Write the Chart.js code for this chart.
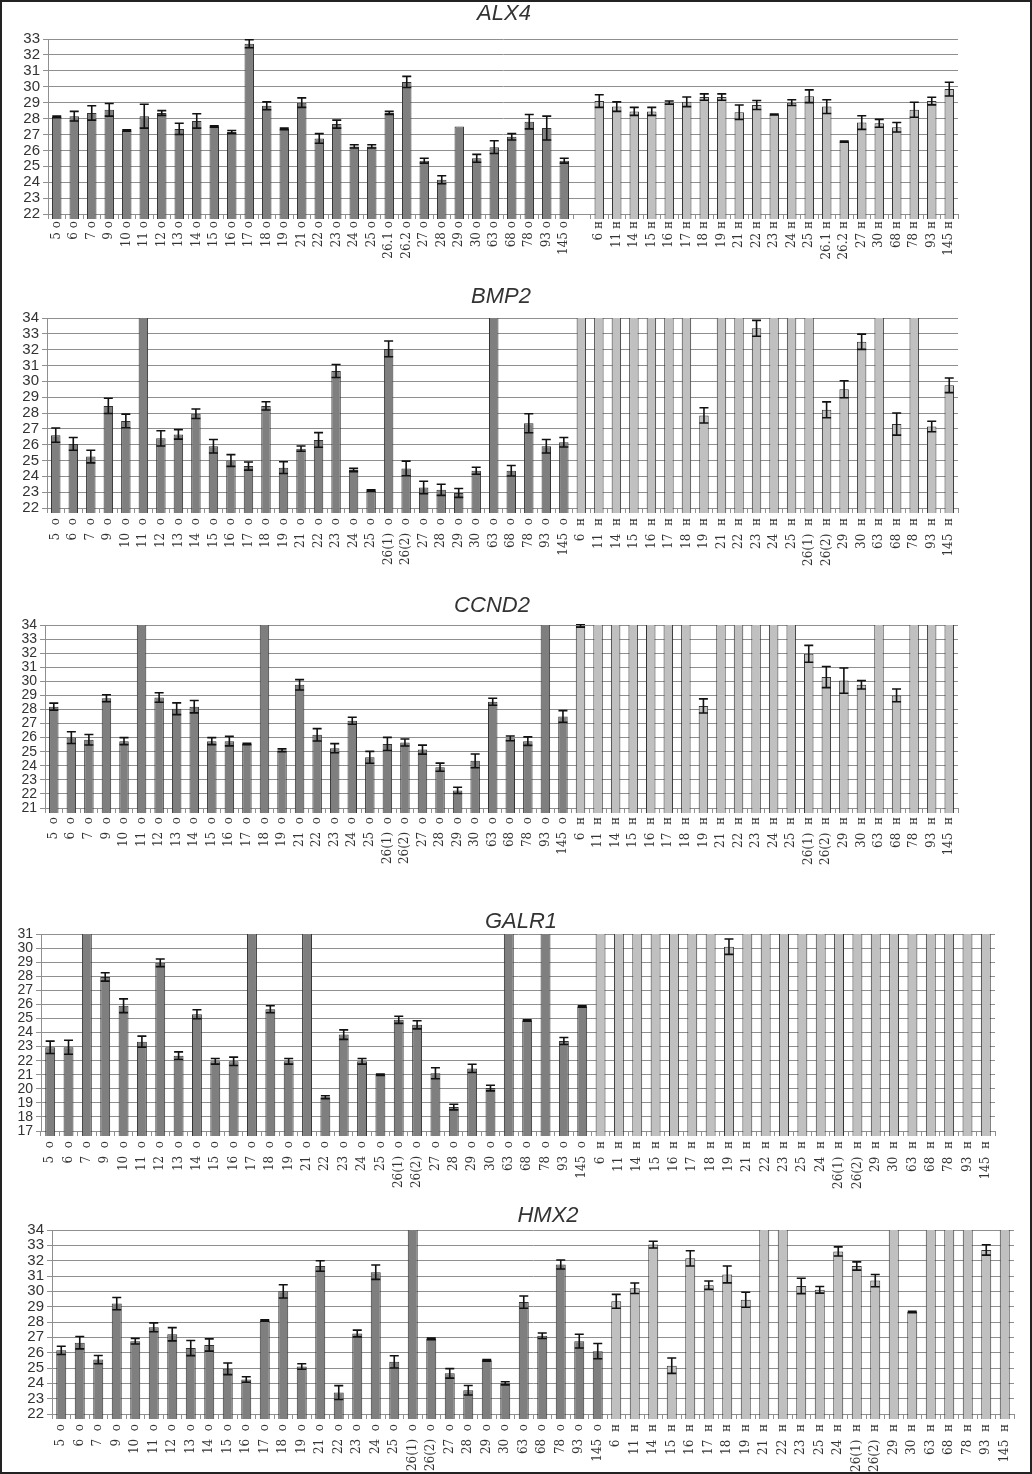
<!DOCTYPE html>
<html>
<head>
<meta charset="utf-8">
<script src="https://cdn.jsdelivr.net/npm/chart.js@4.4.1/dist/chart.umd.min.js"></script>
<style>
  html, body { margin: 0; padding: 0; background: #fff; }
  #figure { position: relative; width: 1032px; height: 1474px; overflow: hidden; background: #fff; }
  #frame { position: absolute; left: 0; top: 0; right: 0; bottom: 0; border: 2px solid #222; pointer-events: none; }
  canvas { position: absolute; left: 0; }
</style>
</head>
<body>
<div id="figure">
  <canvas id="alx4" width="1032" height="275" style="top:0px"></canvas>
  <canvas id="bmp2" width="1032" height="300" style="top:280px"></canvas>
  <canvas id="ccnd2" width="1032" height="290" style="top:585px"></canvas>
  <canvas id="galr1" width="1032" height="300" style="top:895px"></canvas>
  <canvas id="hmx2" width="1032" height="277" style="top:1195px"></canvas>
  <div id="frame"></div>
</div>
<script>
// bars that run past the top of the axis (no signal) get this value and are clipped
var OFF = 99;

// sample numbers: tumour ("о") and normal ("н") tissue
var tumorSamplesAlx4 = ["5", "6", "7", "9", "10", "11", "12", "13", "14", "15", "16", "17", "18", "19", "21", "22", "23", "24", "25", "26.1", "26.2", "27", "28", "29", "30", "63", "68", "78", "93", "145"];
var normalSamplesAlx4 = ["6", "11", "14", "15", "16", "17", "18", "19", "21", "22", "23", "24", "25", "26.1", "26.2", "27", "30", "68", "78", "93", "145"];
var tumorSamples = ["5", "6", "7", "9", "10", "11", "12", "13", "14", "15", "16", "17", "18", "19", "21", "22", "23", "24", "25", "26(1)", "26(2)", "27", "28", "29", "30", "63", "68", "78", "93", "145"];
var normalSamplesBC = ["6", "11", "14", "15", "16", "17", "18", "19", "21", "22", "23", "24", "25", "26(1)", "26(2)", "29", "30", "63", "68", "78", "93", "145"];
var normalSamplesGH = ["6", "11", "14", "15", "16", "17", "18", "19", "21", "22", "23", "25", "24", "26(1)", "26(2)", "29", "30", "63", "68", "78", "93", "145"];

// ALX4
var alx4Tumor = [28.1, 28.15, 28.35, 28.55, 27.25, 28.15, 28.35, 27.35, 27.85, 27.5, 27.15, 32.7, 28.8, 27.35, 29.0, 26.75, 27.65, 26.25, 26.25, 28.35, 30.3, 25.35, 24.15, 27.5, 25.5, 26.2, 26.85, 27.8, 27.4, 25.35];
var alx4TumorErr = [0.05, 0.3, 0.45, 0.4, 0.05, 0.75, 0.15, 0.35, 0.45, 0.05, 0.1, 0.25, 0.25, 0.05, 0.3, 0.3, 0.25, 0.1, 0.1, 0.1, 0.35, 0.15, 0.25, 0, 0.25, 0.4, 0.2, 0.45, 0.75, 0.15];
var alx4Normal = [29.1, 28.75, 28.45, 28.45, 29.0, 29.05, 29.35, 29.35, 28.4, 28.85, 28.25, 29.0, 29.4, 28.75, 26.55, 27.75, 27.7, 27.45, 28.55, 29.1, 29.85];
var alx4NormalErr = [0.4, 0.3, 0.25, 0.25, 0.1, 0.3, 0.2, 0.2, 0.45, 0.28, 0.03, 0.18, 0.4, 0.43, 0.03, 0.43, 0.25, 0.3, 0.47, 0.24, 0.43];

// BMP2
var bmp2Tumor = [26.6, 26.05, 25.25, 28.45, 27.5, OFF, 26.4, 26.65, 27.95, 25.9, 25.0, 24.65, 28.45, 24.55, 25.75, 26.3, 30.65, 24.4, 23.1, 32.05, 24.5, 23.3, 23.15, 22.95, 24.35, OFF, 24.35, 27.35, 25.9, 26.15];
var bmp2TumorErr = [0.45, 0.4, 0.4, 0.48, 0.43, 0, 0.48, 0.3, 0.3, 0.43, 0.37, 0.26, 0.26, 0.37, 0.17, 0.46, 0.41, 0.1, 0.05, 0.5, 0.46, 0.39, 0.35, 0.28, 0.22, 0, 0.33, 0.6, 0.43, 0.3];
var bmp2Normal = [OFF, OFF, OFF, OFF, OFF, OFF, OFF, 27.85, OFF, OFF, 33.35, OFF, OFF, OFF, 28.2, 29.5, 32.5, OFF, 27.3, OFF, 27.15, 29.75];
var bmp2NormalErr = [0, 0, 0, 0, 0, 0, 0, 0.48, 0, 0, 0.5, 0, 0, 0, 0.5, 0.54, 0.48, 0, 0.7, 0, 0.33, 0.46];

// CCND2
var ccnd2Tumor = [28.2, 26.0, 25.85, 28.8, 25.75, OFF, 28.85, 28.05, 28.2, 25.75, 25.75, 25.55, OFF, 25.1, 29.75, 26.2, 25.25, 27.2, 24.6, 25.55, 25.65, 25.15, 23.9, 22.25, 24.35, 28.55, 25.95, 25.75, OFF, 27.5];
var ccnd2TumorErr = [0.25, 0.42, 0.37, 0.25, 0.25, 0, 0.34, 0.42, 0.44, 0.25, 0.34, 0.05, 0, 0.1, 0.37, 0.44, 0.32, 0.25, 0.42, 0.47, 0.25, 0.32, 0.29, 0.22, 0.49, 0.25, 0.17, 0.3, 0, 0.42];
var ccnd2Normal = [33.95, OFF, OFF, OFF, OFF, OFF, OFF, 28.25, OFF, OFF, OFF, OFF, OFF, 31.95, 30.3, 30.05, 29.75, OFF, 29.0, OFF, OFF, OFF];
var ccnd2NormalErr = [0.1, 0, 0, 0, 0, 0, 0, 0.5, 0, 0, 0, 0, 0, 0.6, 0.75, 0.9, 0.3, 0, 0.45, 0, 0, 0];

// GALR1
var galr1Tumor = [22.95, 22.95, OFF, 27.95, 25.9, 23.35, 28.95, 22.35, 25.3, 21.95, 21.95, OFF, 25.65, 21.95, OFF, 19.4, 23.85, 21.95, 21.0, 24.9, 24.55, 21.1, 18.7, 21.45, 20.05, OFF, 24.85, OFF, 23.4, 25.85];
var galr1TumorErr = [0.44, 0.5, 0, 0.3, 0.49, 0.39, 0.27, 0.27, 0.32, 0.2, 0.3, 0, 0.25, 0.2, 0, 0.1, 0.34, 0.2, 0.05, 0.25, 0.29, 0.39, 0.2, 0.29, 0.2, 0, 0.05, 0, 0.25, 0.05];
var galr1Normal = [OFF, OFF, OFF, OFF, OFF, OFF, OFF, 30.1, OFF, OFF, OFF, OFF, OFF, OFF, OFF, OFF, OFF, OFF, OFF, OFF, OFF, OFF];
var galr1NormalErr = [0, 0, 0, 0, 0, 0, 0, 0.55, 0, 0, 0, 0, 0, 0, 0, 0, 0, 0, 0, 0, 0, 0];

// HMX2
var hmx2Tumor = [26.15, 26.65, 25.55, 29.2, 26.75, 27.65, 27.2, 26.3, 26.5, 24.95, 24.25, 28.1, 30.0, 25.1, 31.65, 23.4, 27.25, 31.25, 25.4, OFF, 26.9, 24.65, 23.55, 25.5, 24.0, 29.3, 27.1, 31.75, 26.75, 26.1];
var hmx2TumorErr = [0.27, 0.4, 0.27, 0.4, 0.18, 0.29, 0.43, 0.49, 0.4, 0.38, 0.18, 0.05, 0.43, 0.18, 0.34, 0.45, 0.22, 0.47, 0.4, 0, 0.05, 0.31, 0.31, 0.05, 0.1, 0.4, 0.18, 0.29, 0.45, 0.5];
var hmx2Normal = [29.35, 30.2, 33.05, 25.15, 32.15, 30.4, 31.1, 29.45, OFF, OFF, 30.35, 30.1, 32.6, 31.65, 30.7, OFF, 28.65, OFF, OFF, OFF, 32.7, OFF];
var hmx2NormalErr = [0.45, 0.34, 0.22, 0.5, 0.5, 0.27, 0.55, 0.49, 0, 0, 0.5, 0.22, 0.3, 0.27, 0.4, 0, 0.05, 0, 0, 0, 0.34, 0];

var TUMOR_FILL = "#7f7f7f";
var NORMAL_FILL = "#c0c0c0";
var GRID = "#8f8f8f";

var errorBarsPlugin = {
  id: "errorBars",
  afterDatasetsDraw: function (chart) {
    var ctx = chart.ctx;
    var area = chart.chartArea;
    var yScale = chart.scales.y;
    var ds = chart.data.datasets[0];
    var meta = chart.getDatasetMeta(0);
    ctx.save();
    ctx.beginPath();
    ctx.rect(area.left, area.top - 1, area.right - area.left, area.bottom - area.top + 1);
    ctx.clip();
    ctx.strokeStyle = "#111";
    ctx.lineWidth = 1.6;
    meta.data.forEach(function (bar, i) {
      var v = ds.data[i];
      var e = ds.errors[i];
      if (v == null || !e) return;
      var hw = 4.5;
      var yTop = yScale.getPixelForValue(v + e);
      var yBot = yScale.getPixelForValue(v - e);
      ctx.beginPath();
      ctx.moveTo(bar.x, yTop);
      ctx.lineTo(bar.x, yBot);
      ctx.moveTo(bar.x - hw, yTop);
      ctx.lineTo(bar.x + hw, yTop);
      ctx.moveTo(bar.x - hw, yBot);
      ctx.lineTo(bar.x + hw, yBot);
      ctx.stroke();
    });
    ctx.restore();
  },
};

var geneTitlePlugin = {
  id: "geneTitle",
  afterDraw: function (chart, args, opts) {
    var ctx = chart.ctx;
    ctx.save();
    ctx.font = "italic 22px 'Liberation Sans', Arial, sans-serif";
    ctx.fillStyle = "#333";
    ctx.textAlign = "center";
    ctx.textBaseline = "middle";
    ctx.fillText(opts.text, opts.x, opts.y);
    ctx.restore();
  },
};

function buildSeries(tumorNames, tumorVals, tumorErr, normalNames, normalVals, normalErr, sep, gap) {
  var labels = [], data = [], errors = [], colors = [];
  tumorNames.forEach(function (n, i) {
    labels.push(n + sep + "о");
    data.push(tumorVals[i]);
    errors.push(tumorErr[i]);
    colors.push(TUMOR_FILL);
  });
  if (gap) {
    labels.push("");
    data.push(null);
    errors.push(0);
    colors.push(NORMAL_FILL);
  }
  normalNames.forEach(function (n, i) {
    labels.push(n + sep + "н");
    data.push(normalVals[i]);
    errors.push(normalErr[i]);
    colors.push(NORMAL_FILL);
  });
  return { labels: labels, data: data, errors: errors, colors: colors };
}

function makeChart(id, series, opt) {
  var ctx = document.getElementById(id).getContext("2d");
  return new Chart(ctx, {
    type: "bar",
    data: {
      labels: series.labels,
      datasets: [
        {
          data: series.data,
          errors: series.errors,
          backgroundColor: series.colors,
          borderColor: "#333",
          borderWidth: 1,
          barPercentage: 0.54,
          categoryPercentage: 1.0,
          clip: { left: 5, right: 5, top: 0, bottom: 5 },
        },
      ],
    },
    options: {
      responsive: false,
      animation: false,
      layout: { padding: { left: 0, right: opt.padRight, top: opt.padTop, bottom: 0 } },
      plugins: {
        legend: { display: false },
        tooltip: { enabled: false },
        title: { display: false },
        geneTitle: { text: opt.title, x: opt.titleX, y: opt.titleY },
      },
      scales: {
        x: {
          afterFit: function (scale) { scale.height = opt.xHeight; },
          grid: { display: true, drawOnChartArea: false, drawTicks: true, tickLength: 5, color: GRID, offset: true },
          border: { display: true, color: GRID },
          ticks: {
            autoSkip: false,
            minRotation: 90,
            maxRotation: 90,
            padding: opt.labelPad,
            color: "#333",
            font: { family: "'DejaVu Serif', serif", size: 12 },
          },
        },
        y: {
          min: opt.min,
          max: opt.max,
          afterFit: function (scale) { scale.width = opt.yWidth; },
          grid: { color: GRID, lineWidth: 1, tickLength: 5 },
          border: { display: true, color: GRID },
          ticks: {
            stepSize: 1,
            autoSkip: false,
            padding: 3,
            color: "#333",
            font: { family: "'Liberation Sans', Arial, sans-serif", size: opt.yFont, lineHeight: 1 },
          },
        },
      },
    },
    plugins: [errorBarsPlugin, geneTitlePlugin],
  });
}

var alx4Series = buildSeries(tumorSamplesAlx4, alx4Tumor, alx4TumorErr, normalSamplesAlx4, alx4Normal, alx4NormalErr, " ", true);
var bmp2Series = buildSeries(tumorSamples, bmp2Tumor, bmp2TumorErr, normalSamplesBC, bmp2Normal, bmp2NormalErr, "  ", false);
var ccnd2Series = buildSeries(tumorSamples, ccnd2Tumor, ccnd2TumorErr, normalSamplesBC, ccnd2Normal, ccnd2NormalErr, "  ", false);
var galr1Series = buildSeries(tumorSamples, galr1Tumor, galr1TumorErr, normalSamplesGH, galr1Normal, galr1NormalErr, "  ", false);
var hmx2Series = buildSeries(tumorSamples, hmx2Tumor, hmx2TumorErr, normalSamplesGH, hmx2Normal, hmx2NormalErr, "  ", false);

makeChart("alx4", alx4Series, {
  title: "ALX4", titleX: 504, titleY: 14, min: 22, max: 33,
  padTop: 39, padRight: 74, yWidth: 48, xHeight: 61, labelPad: 2, yFont: 15,
});
makeChart("bmp2", bmp2Series, {
  title: "BMP2", titleX: 501, titleY: 17, min: 22, max: 34,
  padTop: 38, padRight: 74, yWidth: 47, xHeight: 72, labelPad: 5, yFont: 15,
});
makeChart("ccnd2", ccnd2Series, {
  title: "CCND2", titleX: 492, titleY: 21, min: 21, max: 34,
  padTop: 40, padRight: 74, yWidth: 45, xHeight: 67, labelPad: 4, yFont: 14,
});
makeChart("galr1", galr1Series, {
  title: "GALR1", titleX: 521, titleY: 27, min: 17, max: 31,
  padTop: 39, padRight: 37, yWidth: 41, xHeight: 64, labelPad: 5, yFont: 14,
});
makeChart("hmx2", hmx2Series, {
  title: "HMX2", titleX: 548, titleY: 21, min: 22, max: 34,
  padTop: 35, padRight: 18, yWidth: 52, xHeight: 58, labelPad: 5, yFont: 15,
});
</script>
</body>
</html>
